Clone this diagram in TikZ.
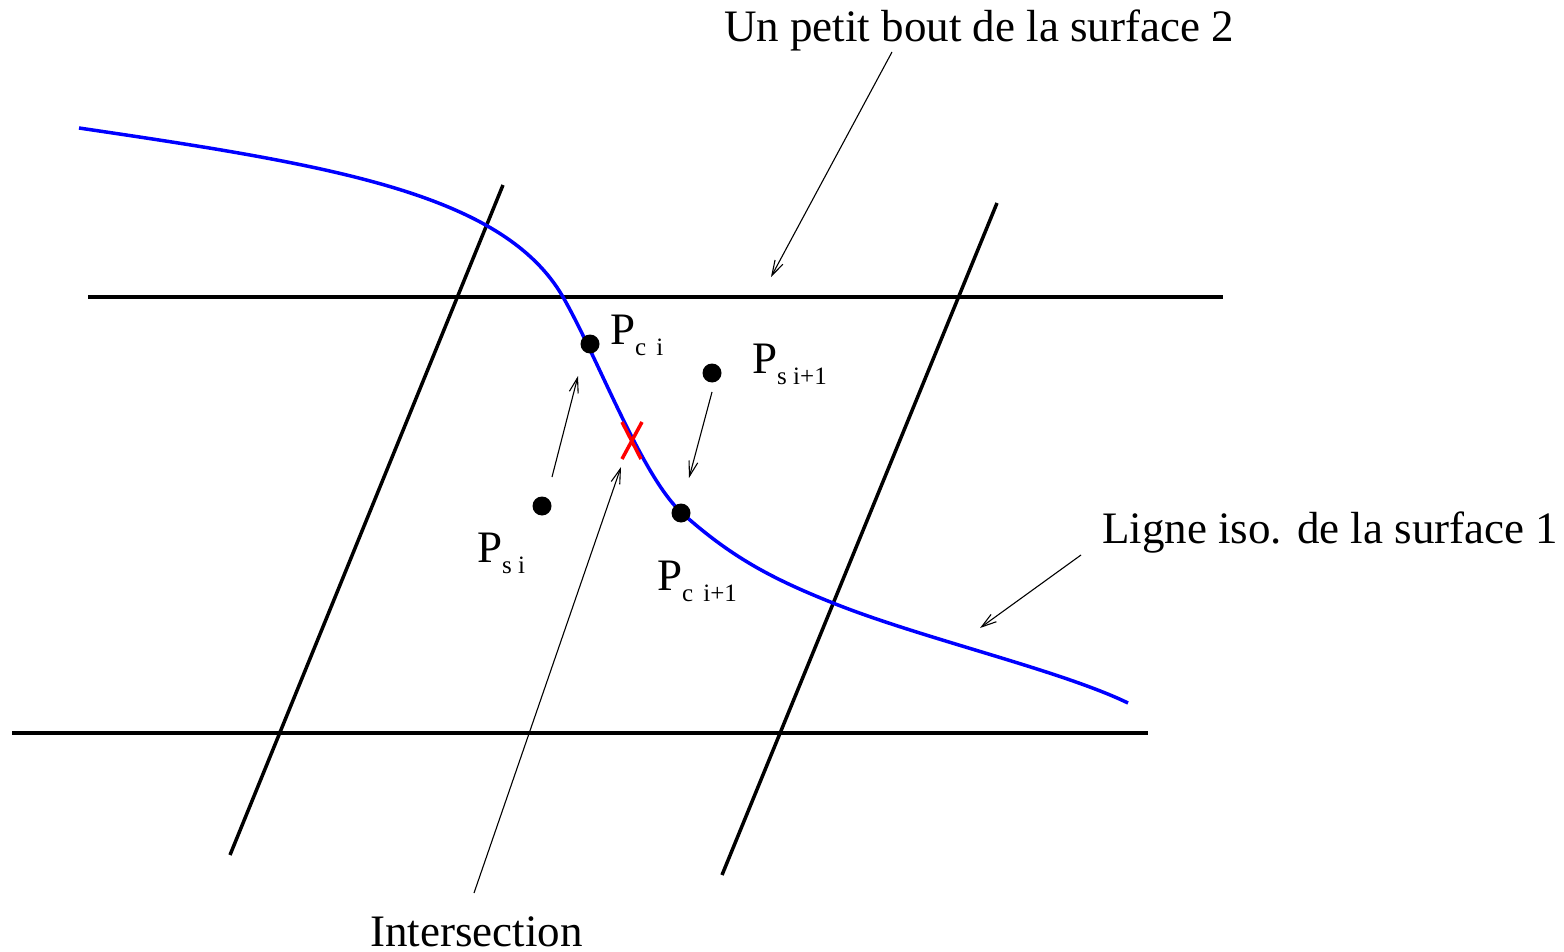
\documentclass[tikz,border=0pt]{standalone}
\usepackage{fontspec}
\setmainfont{Liberation Serif}
\usetikzlibrary{arrows.meta}
\newcommand{\psub}[1]{\raisebox{-11pt}{\fontsize{25}{26}\selectfont #1}}
\tikzset{
    gridline/.style={
        line width=3.5pt,black
    },
    isoline/.style={
        line width=3.5pt,blue
    },
    ptdot/.style={
        circle,fill=black,inner sep=0pt,minimum size=19pt
    },
    lbl/.style={
        inner sep=0pt,anchor=base west,font=\fontsize{45}{54}\selectfont
    },
    pointer/.style={
        line width=1.1pt,->
    }
}
\begin{document}
\begin{tikzpicture}[x=1pt,y=-1pt,>={Straight Barb[length=15pt,width=9pt]}]
\useasboundingbox (0,0) rectangle (1564,952);
% surface 2
\draw[gridline] (88,297) -- (1223,297);
\draw[gridline] (12,733) -- (1148,733);
\draw[gridline] (503,185) -- (230,855);
\draw[gridline] (997,203) -- (722,875);
% ligne iso
\draw[isoline] (79,128) .. controls (330,165) and (503,193) .. (563,297)
  .. controls (598,358) and (642,477) .. (682,513)
  .. controls (730,556) and (770,578) .. (833,603)
  .. controls (920,638) and (1060,670) .. (1128,703);
\draw[red,line width=3.5pt] (622,422) -- (641,459) (642,422) -- (622,459);

\node[ptdot] (pci) at (590,344) {};
\node[ptdot] (psi1) at (712,373) {};
\node[ptdot] (psi) at (542,506) {};
\node[ptdot] (pci1) at (681,513) {};
\node[lbl] (lpci) at (610,344) {P\psub{c\hspace{10pt}i}};
\node[lbl] (lpsi1) at (752,373) {P\psub{s i+1}};
\node[lbl] (lpsi) at (477,562) {P\psub{s i}};
\node[lbl] (lpci1) at (657,590) {P\psub{c\hspace{10pt}i+1}};

\node[lbl] (tsurf) at (724,42) {Un petit bout de la surface 2};
\node[lbl] (tiso) at (1102,543) {Ligne iso. de la surface 1};
\node[lbl] (tinter) at (370,946) {Intersection};

\coordinate (a1) at (552,477); \coordinate (b1) at (578,376);
\coordinate (a2) at (712,392); \coordinate (b2) at (689,478);
\coordinate (a3) at (474,893); \coordinate (b3) at (621,467);
\coordinate (a4) at (892,52);  \coordinate (b4) at (771,277);
\coordinate (a5) at (1081,555); \coordinate (b5) at (980,628);
\draw[pointer] (a1) -- (b1);
\draw[pointer] (a2) -- (b2);
\draw[pointer] (a3) -- (b3);
\draw[pointer] (a4) -- (b4);
\draw[pointer] (a5) -- (b5);
\end{tikzpicture}
\end{document}
